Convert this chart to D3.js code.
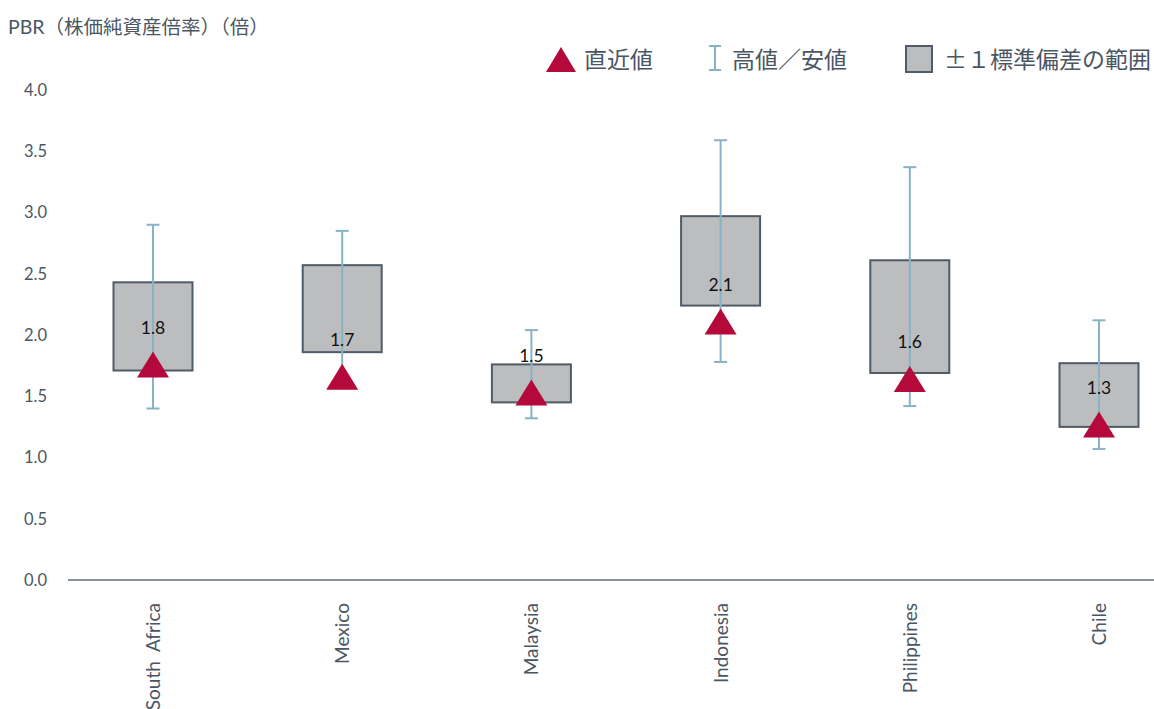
<!DOCTYPE html>
<html>
<head>
<meta charset="utf-8">
<script src="https://cdn.jsdelivr.net/npm/d3@7"></script>
<style>
  body { margin: 0; background: #fff; }
  svg { display: block; }
  text { font-family: Lato, "Noto Sans CJK JP", sans-serif; }
</style>
</head>
<body>
<svg class="chart" width="1154" height="709"></svg>
<script>
// PBR ranges per market
var countries = ["South  Africa", "Mexico", "Malaysia", "Indonesia", "Philippines", "Chile"];
var highs     = [2.90, 2.85, 2.04, 3.59, 3.37, 2.12];
var bandTop   = [2.43, 2.57, 1.76, 2.97, 2.61, 1.77];
var bandBot   = [1.71, 1.86, 1.45, 2.24, 1.69, 1.25];
var lows      = [1.40, 1.62, 1.32, 1.78, 1.42, 1.07];
var latest    = [1.76, 1.66, 1.53, 2.11, 1.64, 1.27];
var yTicks    = [0, 0.5, 1, 1.5, 2, 2.5, 3, 3.5, 4];

var textColor = "#4a5663";
var chart = d3.select(".chart");

var x = d3.scalePoint()
          .domain(countries)
          .range([153, 1099]);

var y = d3.scaleLinear()
          .domain([0, 4])
          .range([580, 90]);

// title
chart.append("text")
     .attr("x", 8)
     .attr("y", 34)
     .attr("fill", textColor)
     .style("font-size", "19.5px")
     .text("PBR（株価純資産倍率）（倍）");

// y axis labels
var yAxis = chart.append("g")
                 .attr("transform", "translate(50,0)")
                 .call(d3.axisLeft(y).tickValues(yTicks).tickSize(0).tickPadding(3).tickFormat(d3.format(".1f")));
yAxis.select(".domain").remove();
yAxis.selectAll("text")
     .attr("fill", textColor)
     .style("font-size", "16.5px")
     .style("font-family", "Lato, sans-serif");

// baseline
chart.append("line")
     .attr("x1", 68)
     .attr("x2", 1154)
     .attr("y1", y(0))
     .attr("y2", y(0))
     .attr("stroke", "#5f6f7e")
     .attr("stroke-width", 1.5);

// category labels
chart.selectAll(".xlabel")
     .data(countries)
     .enter().append("text")
       .attr("class", "xlabel")
       .attr("transform", function(d){
         return "translate(" + (x(d) + 7) + ",603) rotate(-90)";
       })
       .attr("text-anchor", "end")
       .attr("fill", textColor)
       .style("font-size", "19px")
       .style("white-space", "pre")
       .text(function(d){ return d; });

var boxW = 79;

// ±1 sd boxes
chart.selectAll(".band")
     .data(countries)
     .enter().append("rect")
       .attr("class", "band")
       .attr("x", function(d){ return x(d) - boxW / 2; })
       .attr("y", function(d, i){ return y(bandTop[i]); })
       .attr("width", boxW)
       .attr("height", function(d, i){ return y(bandBot[i]) - y(bandTop[i]); })
       .attr("fill", "#bcbdbf")
       .attr("stroke", "#4f5b66")
       .attr("stroke-width", 2);

// high / low whiskers
var whisker = chart.selectAll(".whisker")
                   .data(countries)
                   .enter().append("g")
                     .attr("class", "whisker")
                     .attr("stroke", "#86b3c6")
                     .attr("stroke-width", 2);
whisker.append("line")
       .attr("x1", function(d){ return x(d); })
       .attr("x2", function(d){ return x(d); })
       .attr("y1", function(d, i){ return y(highs[i]); })
       .attr("y2", function(d, i){ return y(lows[i]); });
whisker.append("line")
       .attr("x1", function(d){ return x(d) - 6.5; })
       .attr("x2", function(d){ return x(d) + 6.5; })
       .attr("y1", function(d, i){ return y(highs[i]); })
       .attr("y2", function(d, i){ return y(highs[i]); });
whisker.append("line")
       .attr("x1", function(d){ return x(d) - 6.5; })
       .attr("x2", function(d){ return x(d) + 6.5; })
       .attr("y1", function(d, i){ return y(lows[i]); })
       .attr("y2", function(d, i){ return y(lows[i]); });

// latest value markers
var triW = 16, triH = 13;
chart.selectAll(".latest")
     .data(countries)
     .enter().append("path")
       .attr("class", "latest")
       .attr("transform", function(d, i){ return "translate(" + x(d) + "," + y(latest[i]) + ")"; })
       .attr("d", "M0," + (-triH) + "L" + triW + "," + triH + "L" + (-triW) + "," + triH + "Z")
       .attr("fill", "#b5093b");

chart.selectAll(".vlabel")
     .data(countries)
     .enter().append("text")
       .attr("class", "vlabel")
       .attr("x", function(d){ return x(d); })
       .attr("y", function(d, i){ return y(latest[i]) - 37; })
       .attr("dy", ".35em")
       .attr("text-anchor", "middle")
       .attr("fill", "#111")
       .style("font-size", "17.5px")
       .text(function(d, i){ return d3.format(".1f")(latest[i]); });

// legend
var legend = chart.append("g");
legend.append("path")
      .attr("d", "M561,47L576,72L546,72Z")
      .attr("fill", "#b5093b");
legend.append("text")
      .attr("x", 584)
      .attr("y", 68)
      .attr("fill", textColor)
      .style("font-size", "23px")
      .style("font-family", "'Noto Sans CJK JP', sans-serif")
      .text("直近値");

var lw = legend.append("g").attr("stroke", "#86b3c6").attr("stroke-width", 2);
lw.append("line").attr("x1", 715).attr("x2", 715).attr("y1", 46).attr("y2", 70);
lw.append("line").attr("x1", 709).attr("x2", 721).attr("y1", 46).attr("y2", 46);
lw.append("line").attr("x1", 709).attr("x2", 721).attr("y1", 70).attr("y2", 70);
legend.append("text")
      .attr("x", 732)
      .attr("y", 68)
      .attr("fill", textColor)
      .style("font-size", "23px")
      .style("font-family", "'Noto Sans CJK JP', sans-serif")
      .text("高値／安値");

legend.append("rect")
      .attr("x", 906)
      .attr("y", 46)
      .attr("width", 26)
      .attr("height", 26)
      .attr("fill", "#bcbdbf")
      .attr("stroke", "#4f5b66")
      .attr("stroke-width", 2);
legend.append("text")
      .attr("x", 944)
      .attr("y", 68)
      .attr("fill", textColor)
      .style("font-size", "23px")
      .style("font-family", "'Noto Sans CJK JP', sans-serif")
      .text("±１標準偏差の範囲");
</script>
</body>
</html>
